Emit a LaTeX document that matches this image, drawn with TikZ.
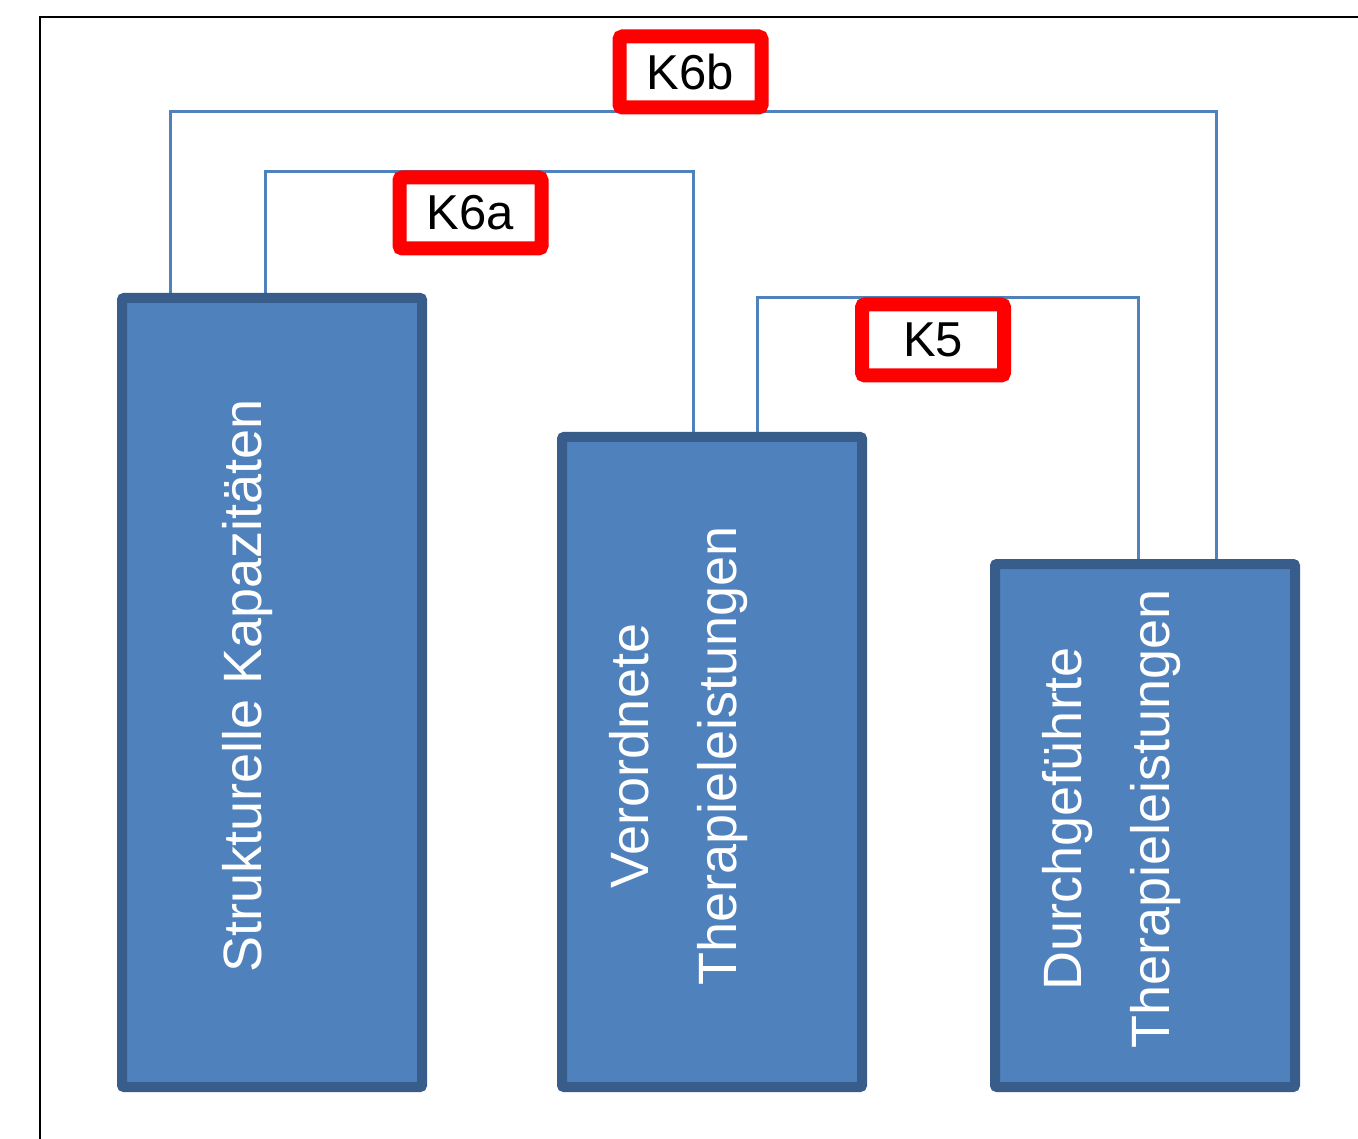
\documentclass[tikz,border=0pt]{standalone}
\usepackage{fontspec}
\setmainfont{Liberation Sans}
\definecolor{boxfill}{HTML}{4F81BD}
\definecolor{boxline}{HTML}{385D8A}
\definecolor{connblue}{HTML}{4F81BD}
\definecolor{labred}{HTML}{FF0000}
\begin{document}
\begin{tikzpicture}[x=1pt,y=-1pt,
  block/.style={rectangle, draw=boxline, fill=boxfill, line width=10pt, rounded corners=2pt, minimum width=300pt, inner sep=0pt},
  blocktext/.style={rotate=90, text=white, align=center, inner sep=0pt, font=\fontsize{54}{88}\selectfont},
  klabel/.style={rectangle, draw=labred, fill=white, line width=14pt, rounded corners=3pt, minimum width=142pt, minimum height=71pt, inner sep=0pt, text=black, font=\fontsize{49}{49}\selectfont},
  connline/.style={draw=connblue, line width=3pt}]
\useasboundingbox (0,0) rectangle (1358,1139);
\fill[white] (0,0) rectangle (1358,1139);
\draw[black, line width=2pt] (40,1139) -- (40,17) -- (1358,17);
% connector turning points
\coordinate (k6bL) at (170,112);
\coordinate (k6bR) at (1216,112);
\coordinate (k6aL) at (265,172);
\coordinate (k6aR) at (693,172);
\coordinate (k5L) at (757,298);
\coordinate (k5R) at (1138,298);
% boxes (positions only, drawn after connectors)
\path (272,692.5) node[block, minimum height=789pt, draw=none, fill=none] (b1) {};
\path (712,762) node[block, minimum height=650pt, draw=none, fill=none] (b2) {};
\path (1145,825.5) node[block, minimum height=523pt, draw=none, fill=none] (b3) {};
% connectors
\draw[connline] (b1.north -| k6bL) -- (k6bL) -- (k6bR) -- (b3.north -| k6bR);
\draw[connline] (b1.north -| k6aL) -- (k6aL) -- (k6aR) -- (b2.north -| k6aR);
\draw[connline] (b2.north -| k5L) -- (k5L) -- (k5R) -- (b3.north -| k5R);
% visible boxes
\node[block, minimum height=789pt] (box1) at (b1) {};
\node[block, minimum height=650pt] (box2) at (b2) {};
\node[block, minimum height=523pt] (box3) at (b3) {};
% box texts
\node[blocktext, anchor=base] (t1) at (261,686) {Strukturelle Kapazitäten};
\node[blocktext] (t2) at (679,756) {Verordnete\\Therapieleistungen};
\node[blocktext] (t3) at (1112,819) {Durchgeführte\\Therapieleistungen};
% labels
\node[klabel] (k6b) at (690.5,72) {K6b};
\node[klabel] (k6a) at (470.5,213) {K6a};
\node[klabel] (k5) at (933,340) {K5};
\end{tikzpicture}
\end{document}
